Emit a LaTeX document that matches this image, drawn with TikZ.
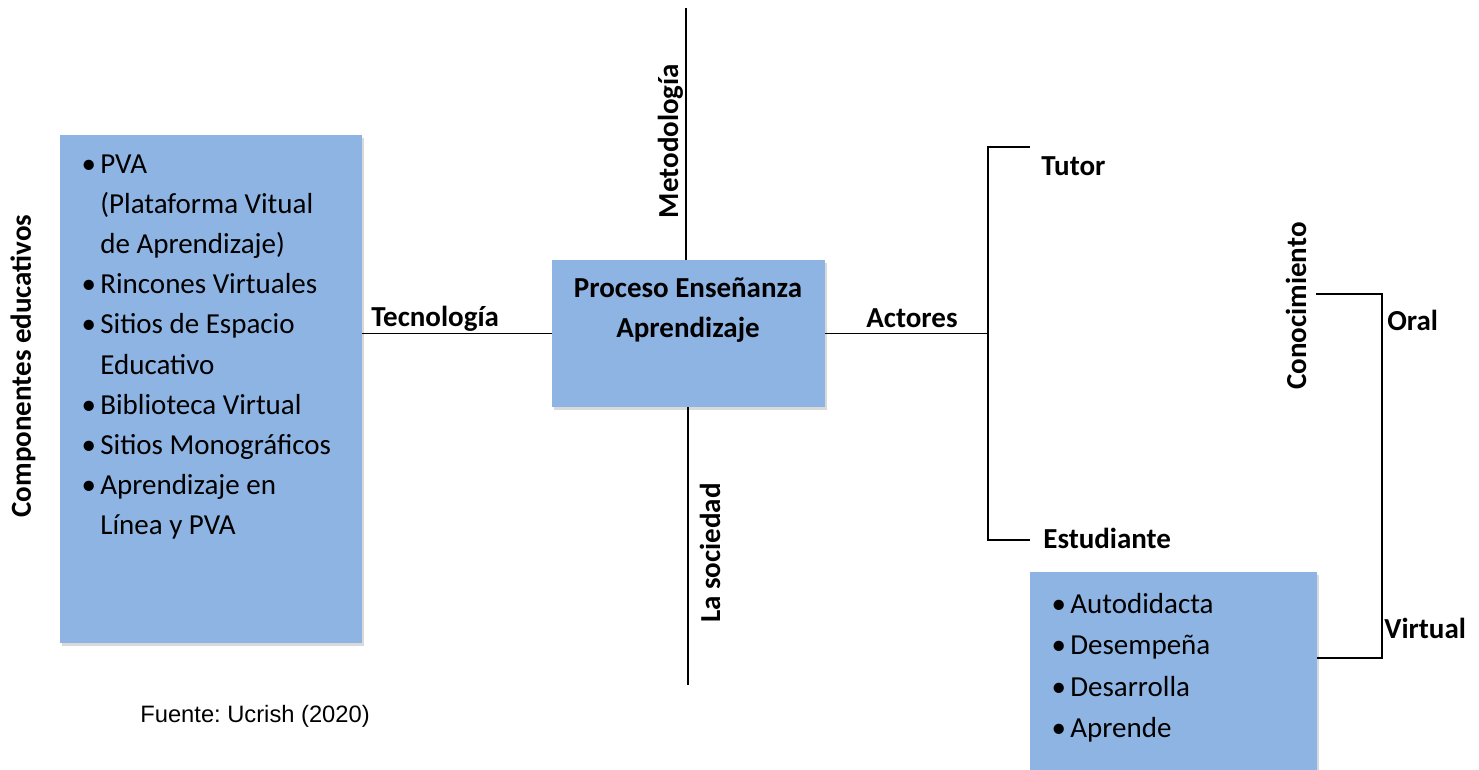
\documentclass[tikz,border=0pt]{standalone}
\usepackage{fontspec}
\setmainfont{Carlito}
\newfontfamily\arialfont{Liberation Sans}
\usepackage{tikz}
\usetikzlibrary{shapes,shadows}
\definecolor{boxblue}{RGB}{142,180,227}
\newcommand{\itm}{\llap{\textbullet\hspace{2.5pt}}}
\frenchspacing

\begin{document}
\begin{tikzpicture}[x=0.02cm,y=-0.02cm,
	bluebox/.style={rectangle,fill=boxblue,
		drop shadow={shadow xshift=1.2pt,shadow yshift=-1.5pt,opacity=0.3}},
	itemtxt/.style={anchor=base west,inner sep=0pt,font=\fontsize{16.5}{20}\selectfont},
	lbl/.style={anchor=base west,inner sep=0pt,font=\fontsize{16.5}{20}\selectfont\bfseries},
	vlbl/.style={anchor=base,inner sep=0pt,rotate=90,font=\fontsize{16.5}{20}\selectfont\bfseries},
	conn/.style={draw,line width=0.8pt}]
	\useasboundingbox (0,0) rectangle (1479,769);

	\node[bluebox,minimum width=6.04cm,minimum height=10.16cm] (comp) at (211,389) {};
	\node[bluebox,minimum width=5.46cm,minimum height=2.94cm] (proc) at (688.5,333.5) {};
	\node[bluebox,minimum width=5.74cm,minimum height=4.56cm] (estbox) at (1173.5,686) {};

	\node[itemtxt] (c1) at (100,173) {\itm PVA};
	\node[itemtxt] (c2) at (100,213.2) {(Plataforma Vitual};
	\node[itemtxt] (c3) at (100,253.4) {de Aprendizaje)};
	\node[itemtxt] (c4) at (100,293.6) {\itm Rincones Virtuales};
	\node[itemtxt] (c5) at (100,333.8) {\itm Sitios de Espacio};
	\node[itemtxt] (c6) at (100,374) {Educativo};
	\node[itemtxt] (c7) at (100,414.2) {\itm Biblioteca Virtual};
	\node[itemtxt] (c8) at (100,454.4) {\itm Sitios Monográficos};
	\node[itemtxt] (c9) at (100,494.6) {\itm Aprendizaje en};
	\node[itemtxt] (c10) at (100,534.8) {Línea y PVA};

	\node[lbl,anchor=base] (p1) at (688,297) {Proceso Enseñanza};
	\node[lbl,anchor=base] (p2) at (688,337) {Aprendizaje};

	\node[itemtxt] (e1) at (1070,613) {\itm Autodidacta};
	\node[itemtxt] (e2) at (1070,654.5) {\itm Desempeña};
	\node[itemtxt] (e3) at (1070,696) {\itm Desarrolla};
	\node[itemtxt] (e4) at (1070,737.5) {\itm Aprende};

	\node[vlbl] (compeduc) at (31,366) {Componentes educativos};
	\node[vlbl] (metod) at (678,141) {Metodología};
	\node[vlbl] (socied) at (720,553) {La sociedad};
	\node[vlbl] (conoc) at (1306,306) {Conocimiento};
	\node[lbl] (tecno) at (371,326) {Tecnología};
	\node[lbl] (actor) at (866,327) {Actores};
	\node[lbl] (tutor) at (1041,175) {Tutor};
	\node[lbl] (estud) at (1043,548) {Estudiante};
	\node[lbl] (oral) at (1387,330) {Oral};
	\node[lbl] (virt) at (1384,638) {Virtual};
	\node[anchor=base west,inner sep=0pt,font=\fontsize{13.5}{16}\arialfont] (fuente) at (140,722) {Fuente: Ucrish (2020)};

	\coordinate (mettop) at (686,8);
	\coordinate (socbot) at (688,685);
	\coordinate (actfork) at (988,333.5);
	\coordinate (tutend) at (1030,147);
	\coordinate (estend) at (1030,540);
	\coordinate (conend) at (1316,294);
	\coordinate (virtfork) at (1382,658);

	\path[conn] (proc.west) -- (proc.west -| comp.east);
	\path[conn] (mettop) -- (mettop |- proc.north);
	\path[conn] (proc.south -| socbot) -- (socbot);
	\path[conn] (proc.east) -- (actfork);
	\path[conn] (tutend) -| (actfork) |- (estend);
	\path[conn] (conend) -| (virtfork) -- (virtfork -| estbox.east);
\end{tikzpicture}
\end{document}
